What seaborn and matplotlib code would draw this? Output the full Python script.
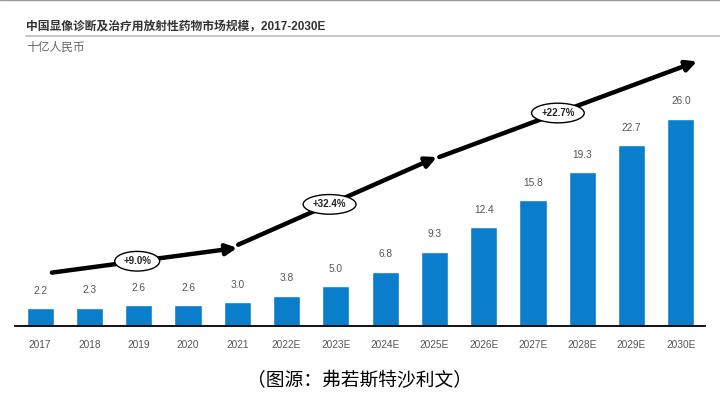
import numpy as np
import matplotlib
matplotlib.use("Agg")
import matplotlib.pyplot as plt
import seaborn as sns

# chart data
years = ['2017', '2018', '2019', '2020', '2021', '2022E', '2023E',
         '2024E', '2025E', '2026E', '2027E', '2028E', '2029E', '2030E']
market = [2.2, 2.3, 2.6, 2.6, 3.0, 3.8, 5.0, 6.8, 9.3, 12.4, 15.8, 19.3, 22.7, 26.0]

# CAGR arrows: label, start (x index, y value), end (x index, y value)
cagr_labels = ['+9.0%', '+32.4%', '+22.7%']
arrow_start = [(0.24, 6.7), (4.02, 10.2), (8.1, 21.2)]
arrow_end = [(4.0, 9.8), (8.05, 21.2), (13.33, 33.2)]

title = '中国显像诊断及治疗用放射性药物市场规模，2017-2030E'
unit = '十亿人民币'
source = '（图源：弗若斯特沙利文）'

sns.set_theme(style="white")
plt.rcParams['font.family'] = ['Liberation Sans', 'Noto Sans CJK SC', 'DejaVu Sans']

fig = plt.figure(figsize=(7.2, 3.94), dpi=100)
ax = fig.add_axes([0.0208, 0.1726, 0.9583, 0.6878])

sns.barplot(x=years, y=market, color='#0A7ECB', saturation=1, width=0.55, ax=ax)

for i, v in enumerate(market):
    ax.text(i, v + 2.2, f'{v:.1f}', ha='center', va='center', fontsize=7.3, color='#555555')

# growth arrows
for lab, s, e in zip(cagr_labels, arrow_start, arrow_end):
    ax.annotate('', xy=e, xytext=s,
                arrowprops=dict(arrowstyle='-|>', lw=3.2, color='black',
                                mutation_scale=16, shrinkA=0, shrinkB=0))
    t = 0.46
    mx, my = s[0] + t * (e[0] - s[0]), s[1] + t * (e[1] - s[1])
    ax.text(mx, my, lab, ha='center', va='center', fontsize=7, color='#222222',
            fontweight='bold',
            bbox=dict(boxstyle='ellipse,pad=0.2', fc='white', ec='black', lw=1))

ax.set_xlim(-0.51, 13.49)
ax.set_ylim(0, 34)
ax.set_yticks([])
for sp in ['top', 'left', 'right']:
    ax.spines[sp].set_visible(False)
ax.spines['bottom'].set_color('black')
ax.spines['bottom'].set_linewidth(1.3)
ax.tick_params(axis='x', length=0, pad=10, labelsize=7.3, labelcolor='#555555')

# header
fig.text(26 / 720, 1 - 27 / 394, title, fontsize=8.5, fontweight='bold',
         color='#333333', ha='left', va='center')
fig.add_artist(plt.Line2D([26 / 720, 1], [1 - 36 / 394] * 2, color='#bbbbbb', lw=1.2))
fig.add_artist(plt.Line2D([0, 1], [0.999, 0.999], color='#999999', lw=1))
fig.text(26 / 720, 1 - 48 / 394, unit, fontsize=8.5, color='#666666', ha='left', va='center')

fig.text(0.5, 1 - 381 / 394, source, fontsize=13.5, color='black', ha='center', va='center')

plt.savefig('out.png', dpi=100)
